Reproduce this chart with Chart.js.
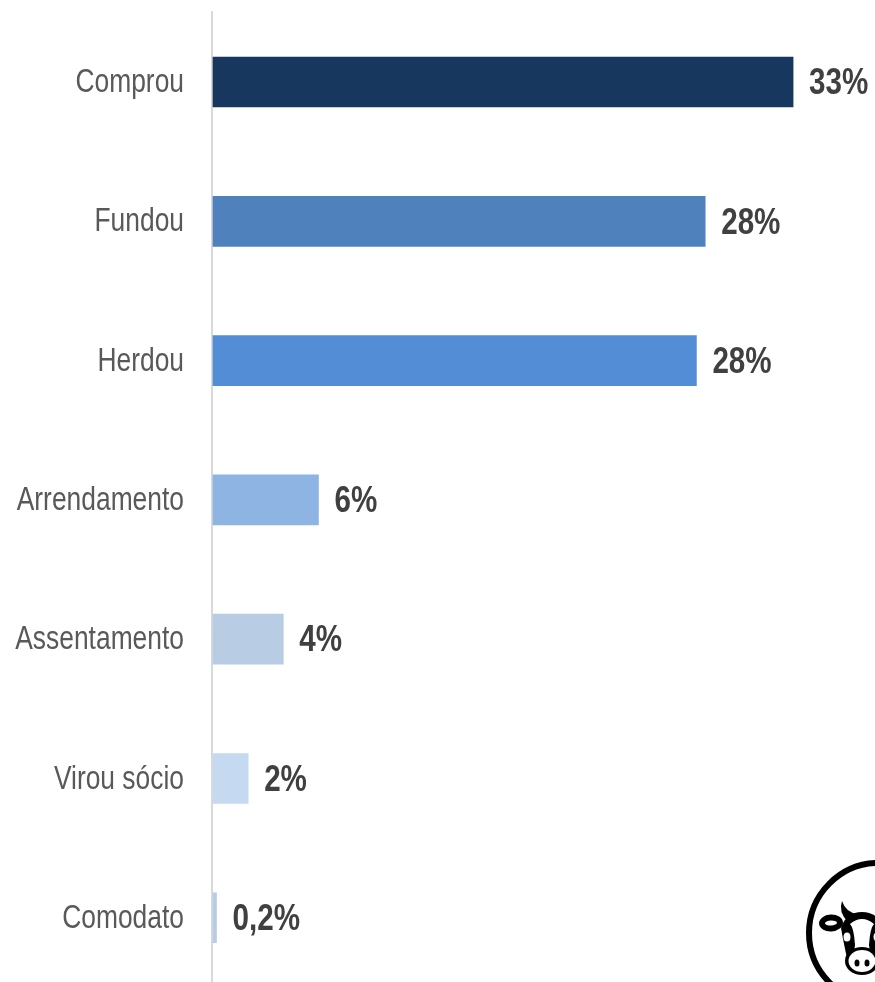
<!DOCTYPE html>
<html><head><meta charset="utf-8">
<style>html,body{margin:0;padding:0;background:#fff;overflow:hidden;width:875px;height:982px}#w{position:relative;width:875px;height:1000px}</style>
<script src="https://cdn.jsdelivr.net/npm/chart.js@4"></script>
</head><body><div id="w"><canvas id="c" width="875" height="1000"></canvas></div>
<script>
const categories=["Comprou","Fundou","Herdou","Arrendamento","Assentamento","Virou sócio","Comodato"];
const values=[33,28,27.5,6,4,2,0.2];
const valueLabels=["33%","28%","28%","6%","4%","2%","0,2%"];
const barColors=["#17375e","#4f81bd","#538dd5","#8db4e2","#b8cce4","#c5d9f1","#b8cce4"];
const FONT='"Liberation Sans",Arial,sans-serif';
const SQUISH=0.8;

const valuePlugin={id:'valueLabels',afterDatasetsDraw(chart){
  const {ctx}=chart;const meta=chart.getDatasetMeta(0);
  ctx.save();ctx.font='bold 37px '+FONT;ctx.fillStyle='#404040';ctx.textAlign='left';ctx.textBaseline='middle';
  meta.data.forEach((el,i)=>{
    ctx.save();ctx.translate(el.x+16,el.y+2);ctx.scale(SQUISH,1);ctx.fillText(valueLabels[i],0,0);ctx.restore();
  });
  ctx.restore();
}};
const narrowTicks={id:'narrowTicks',afterLayout(chart){
  const s=chart.scales.y;if(s._narrow)return;s._narrow=true;
  s._computeLabelArea=()=>undefined;
  const orig=s.drawLabels.bind(s);const ax=184;
  s.drawLabels=function(a){const c=chart.ctx;c.save();c.translate(ax,1);c.scale(SQUISH,1);c.translate(-ax,0);orig(a);c.restore();};
}};
const cowPlugin={id:'cow',afterDraw(chart){
  const c=chart.ctx;c.save();
  c.beginPath();c.rect(0,0,875,982);c.clip();
  c.strokeStyle='#000';c.lineWidth=6;c.beginPath();c.arc(879,933,70,0,Math.PI*2);c.stroke();
  const K='#000',W='#fff';
  const ell=(x,y,rx,ry,col,rot=0)=>{c.fillStyle=col;c.beginPath();c.ellipse(x,y,rx,ry,rot,0,Math.PI*2);c.fill();};
  ell(831,923,12,8.5,K,-0.05);
  ell(831,923,6,2.5,W,-0.05);
  c.fillStyle=K;
  c.beginPath();c.moveTo(842,901);c.quadraticCurveTo(838,912,848,922);c.lineTo(858,914);c.quadraticCurveTo(846,913,842,901);c.fill();
  c.beginPath();c.moveTo(841,928);c.quadraticCurveTo(846,912,862,912);c.quadraticCurveTo(878,912,883,928);
  c.quadraticCurveTo(880,945,877,958);c.lineTo(847,958);c.quadraticCurveTo(844,945,841,928);c.fill();
  c.fillStyle=W;
  c.beginPath();c.moveTo(850,924);c.quadraticCurveTo(862,914,874,924);c.quadraticCurveTo(870,928,869,945);
  c.lineTo(871,960);c.lineTo(853,960);c.lineTo(855,945);c.quadraticCurveTo(854,928,850,924);c.fill();
  ell(847,937,3.5,4.5,W);
  ell(877,937,3.5,4.5,W);
  ell(862,961,17,14,K);
  ell(862,961,13.5,11,W);
  ell(857,963,2.5,3.5,K);
  ell(867,963,2.5,3.5,K);
  c.restore();
}};
new Chart(document.getElementById('c'),{
  type:'bar',
  data:{labels:categories,datasets:[{data:values,backgroundColor:barColors,barThickness:50,borderWidth:0}]},
  plugins:[narrowTicks,valuePlugin,cowPlugin],
  options:{
    indexAxis:'y',responsive:false,animation:false,
    layout:{padding:{top:12.4,bottom:12.6,right:11.6,left:0}},
    plugins:{legend:{display:false},tooltip:{enabled:false}},
    scales:{
      x:{display:false,min:-0.057,max:37,grid:{display:false}},
      y:{
        afterFit(s){s.width=212;s.paddingTop=0;s.paddingBottom=0;},
        grid:{display:false,drawTicks:false},
        border:{display:true,color:'#d9d9d9',width:2},
        ticks:{color:'#595959',padding:28,autoSkip:false,font:{family:FONT,size:33}}
      }
    }
  }
});
</script></body></html>
